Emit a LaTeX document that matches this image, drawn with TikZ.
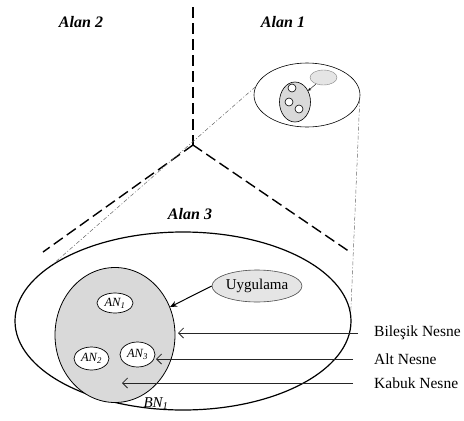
\documentclass[tikz,border=0pt]{standalone}
\usepackage{fontspec}
\setmainfont{Liberation Serif}
\usetikzlibrary{shapes.geometric,arrows.meta,positioning}

\begin{document}
\begin{tikzpicture}[
    x=1pt, y=-1pt,
    % Define the styles for regions, objects and pointers
    region/.style={draw, ellipse, inner sep=0pt},
    shell/.style={region, fill=black!15, line width=0.8pt},
    sub/.style={region, fill=white, line width=0.7pt, font=\fontsize{12.5}{14}\selectfont\itshape},
    area/.style={font=\fontsize{16}{18}\selectfont\bfseries\itshape},
    border/.style={line width=1.4pt, dash pattern=on 11pt off 5pt},
    proj/.style={black!60, line width=0.5pt, dash pattern=on 4pt off 2pt on 1pt off 2pt},
    pointer/.style={-{Straight Barb[length=5pt,width=10pt]}, black!85, line width=0.8pt},
    lbl/.style={font=\fontsize{15.5}{17}\selectfont, anchor=west, inner sep=0pt},
    ]

    \useasboundingbox (0,0) rectangle (464,421);

    % Region borders
    \coordinate (O) at (193,145);
    \coordinate (T) at (193,7);
    \coordinate (L) at (43,252);
    \coordinate (R) at (350,252);
    \draw[border] (T) -- (O);
    \draw[border] (O) -- (L);
    \draw[border] (O) -- (R);

    % Region names
    \node[area] (A2) at (81,22) {Alan 2};
    \node[area] (A1) at (283,22) {Alan 1};
    \node[area] (A3) at (190,214) {Alan 3};

    % Small view in region 1
    \node[region, line width=0.6pt, minimum width=106pt, minimum height=64pt] (W) at (307,95) {};
    \node[region, fill=black!15, line width=0.6pt, minimum width=31pt, minimum height=40pt] (w-bn) at (295,102) {};
    \foreach \i/\p in {1/{292,88}, 2/{289,102}, 3/{299,109}}
        \node[region, fill=white, line width=0.6pt, minimum size=8pt] (w-an\i) at (\p) {};
    \node[region, fill=black!10, draw=black!50, minimum width=27pt, minimum height=15pt] (w-app) at (323.5,77.5) {};
    \draw[-{Stealth[length=3pt,width=3pt]}, line width=0.4pt] (w-app) -- (w-bn);

    % Region 3
    \node[region, line width=1.2pt, minimum width=336pt, minimum height=178pt] (world) at (183,321) {};

    % Projection lines
    \draw[proj] (W.171) -- (world.156);
    \draw[proj] (W.-5) -- (world.3);

    % Composite object
    \node[shell, minimum width=120pt, minimum height=135pt] (bn) at (115,335) {};
    \node[sub, minimum width=36pt, minimum height=20pt] (an1) at (115,303) {AN\textsubscript{1}};
    \node[sub, minimum width=35pt, minimum height=23pt] (an2) at (91.5,358.5) {AN\textsubscript{2}};
    \node[sub, minimum width=35pt, minimum height=25pt] (an3) at (137.5,354.5) {AN\textsubscript{3}};
    \node[font=\fontsize{15}{17}\selectfont\itshape] (bn-name) at (156,404) {BN\textsubscript{1}};

    % Application
    \node[region, fill=black!10, draw=black!70, line width=0.6pt, minimum width=90pt, minimum height=32pt,
        font=\fontsize{15}{17}\selectfont] (app) at (257,286) {Uygulama};
    \draw[-{Stealth[length=7pt,width=6pt]}, line width=1pt] (app.west) -- (bn.27);

    % Pointer labels
    \foreach \n/\t/\y/\tx/\gap in {bilesik/Bileşik Nesne/333/178/16, alt/Alt Nesne/359/156/21, kabuk/Kabuk Nesne/383/122/21} {
        \node[lbl] (\n) at (374,\y) {\t};
        \coordinate (\n-tip) at (\tx,\y);
        \draw[pointer, shorten <=\gap] (\n.west) -- (\n-tip);
    }

\end{tikzpicture}
\end{document}
